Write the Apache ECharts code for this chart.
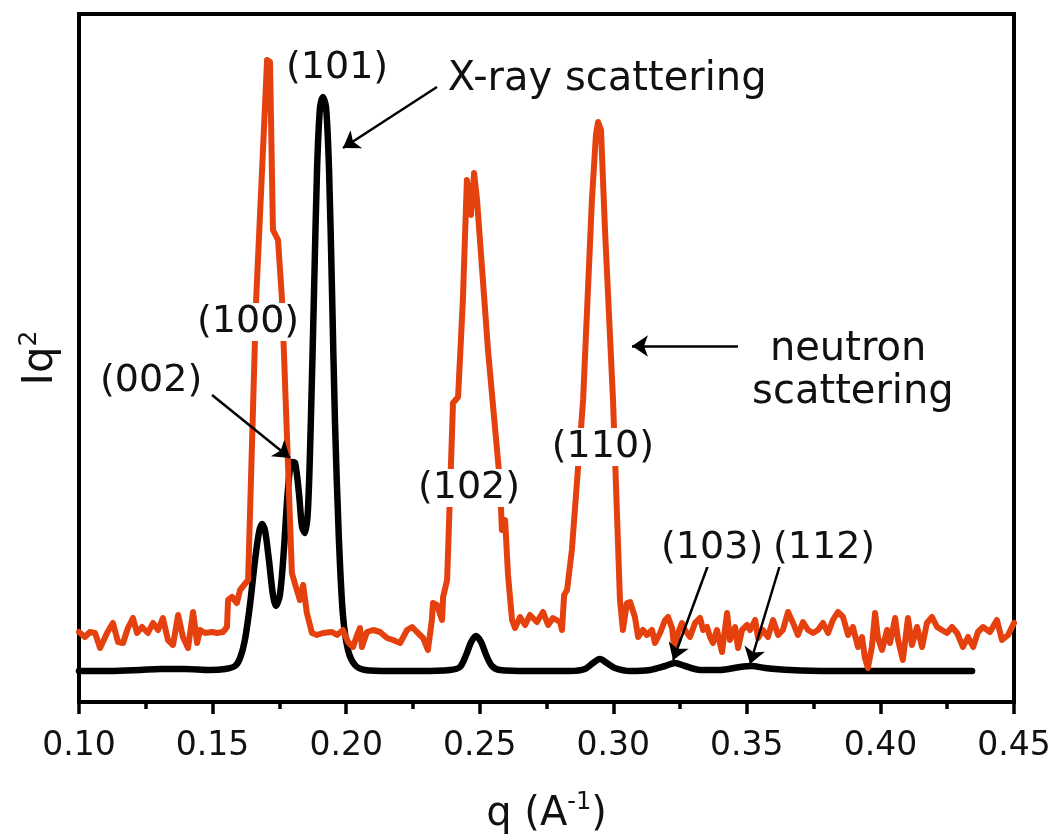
<!DOCTYPE html>
<html><head><meta charset="utf-8">
<script src="https://cdn.jsdelivr.net/npm/echarts@6/dist/echarts.min.js"></script>
<style>html,body{margin:0;padding:0;background:#fff}#c{width:1060px;height:838px}</style>
</head><body><div id="c"></div>
<script>
// X-ray scattering curve (q in 1/A, Iq^2 arbitrary units)
const qBlack=[0.1000,0.1116,0.1228,0.1303,0.1397,0.1490,0.1547,0.1584,0.1603,0.1621,0.1640,0.1659,0.1674,0.1685,0.1696,0.1711,0.1726,0.1737,0.1752,0.1767,0.1782,0.1797,0.1809,0.1824,0.1835,0.1846,0.1857,0.1868,0.1880,0.1891,0.1902,0.1913,0.1925,0.1936,0.1947,0.1958,0.1973,0.1988,0.2007,0.2033,0.2071,0.2164,0.2276,0.2389,0.2426,0.2449,0.2468,0.2486,0.2505,0.2524,0.2546,0.2576,0.2688,0.2838,0.2894,0.2924,0.2950,0.2976,0.3006,0.3063,0.3137,0.3194,0.3231,0.3268,0.3325,0.3400,0.3474,0.3519,0.3568,0.3662,0.3811,0.3998,0.4186,0.4343];
const iBlack=[31,31,32,33,33,32,33,36,44,62,97,142,170,178,172,142,107,96,107,152,212,240,239,207,175,169,192,282,412,532,594,605,594,532,412,282,162,87,52,37,32,31,31,32,35,47,60,66,60,47,36,32,31,31,33,39,43,39,34,31,32,36,39,36,32,32,35,36,34,32,31,31,31,31];
// Neutron scattering curve
const qRed=[0.1000,0.1022,0.1041,0.1060,0.1079,0.1105,0.1127,0.1146,0.1165,0.1183,
0.1202,0.1217,0.1236,0.1258,0.1277,0.1296,0.1314,0.1333,0.1352,0.1371,
0.1389,0.1408,0.1427,0.1442,0.1453,0.1472,0.1498,0.1517,0.1539,0.1554,
0.1558,0.1573,0.1591,0.1603,0.1618,0.1633,0.1663,0.1693,0.1704,0.1715,
0.1726,0.1745,0.1760,0.1797,0.1812,0.1827,0.1839,0.1853,0.1872,0.1891,
0.1913,0.1947,0.1966,0.1988,0.2007,0.2026,0.2041,0.2052,0.2059,0.2078,
0.2101,0.2127,0.2153,0.2175,0.2202,0.2228,0.2247,0.2265,0.2288,0.2306,
0.2321,0.2325,0.2340,0.2359,0.2363,0.2378,0.2400,0.2419,0.2437,0.2452,
0.2467,0.2479,0.2490,0.2531,0.2576,0.2583,0.2595,0.2606,0.2621,0.2632,
0.2651,0.2670,0.2688,0.2714,0.2737,0.2756,0.2774,0.2801,0.2808,0.2816,
0.2827,0.2845,0.2887,0.2920,0.2935,0.2943,0.2954,0.2969,0.2999,0.3025,
0.3036,0.3051,0.3063,0.3081,0.3093,0.3111,0.3126,0.3145,0.3156,0.3175,
0.3194,0.3205,0.3220,0.3231,0.3242,0.3257,0.3268,0.3287,0.3306,0.3325,
0.3336,0.3351,0.3362,0.3373,0.3388,0.3407,0.3426,0.3437,0.3456,0.3467,
0.3482,0.3501,0.3512,0.3531,0.3542,0.3560,0.3579,0.3598,0.3617,0.3635,
0.3654,0.3673,0.3691,0.3710,0.3729,0.3748,0.3766,0.3785,0.3804,0.3822,
0.3841,0.3860,0.3879,0.3897,0.3916,0.3931,0.3942,0.3953,0.3968,0.3980,
0.3991,0.4006,0.4025,0.4036,0.4055,0.4066,0.4084,0.4103,0.4118,0.4137,
0.4156,0.4174,0.4193,0.4212,0.4230,0.4249,0.4268,0.4287,0.4309,0.4328,
0.4347,0.4365,0.4384,0.4410,0.4436,0.4455,0.4478,0.4496,0.4500];
const iRed=[70,65,70,69,54,69,79,60,59,74,
84,69,75,69,79,72,84,62,57,87,
65,54,90,59,72,69,70,69,70,75,
102,105,99,112,117,122,402,577,642,640,
472,462,402,129,115,102,117,89,69,67,
69,70,67,72,60,55,67,74,55,70,
72,70,64,62,59,72,75,70,64,52,
82,99,97,82,105,122,299,305,402,522,
487,529,502,352,219,172,182,127,82,74,
85,77,87,80,90,77,84,80,72,107,
112,152,302,502,567,580,572,472,302,102,
72,99,100,85,65,72,67,72,59,69,
82,85,74,47,69,79,72,65,79,84,
72,75,65,59,72,50,89,62,75,54,
72,77,72,82,64,72,65,82,67,72,
90,79,67,80,72,69,72,79,69,82,
90,85,67,75,55,65,44,34,55,89,
64,52,72,59,84,62,42,84,57,75,
55,79,85,75,72,69,75,69,55,65,
55,70,75,70,82,62,67,77,79];
const xTickLabels=['0.10','0.15','0.20','0.25','0.30','0.35','0.40','0.45'];
// Peak labels (data coordinates)
const peakLabels=['(101)','(100)','(002)','(102)','(110)','(103)','(112)'];
const peakLabelQ=[0.1966,0.1633,0.1270,0.2460,0.2961,0.3370,0.3789];
const peakLabelI=[634,380,321,214,255,154,154];
// Notes
const noteTexts=['X-ray scattering','neutron','scattering'];
const noteQ=[0.2977,0.3879,0.3897];
const noteI=[622,352,309];
// Arrows (tail -> head)
const arrowFromQ=[0.2340,0.1498,0.3467,0.3355,0.3624];
const arrowFromI=[615,307,356,137,137];
const arrowToQ=[0.1988,0.1790,0.3070,0.3224,0.3512];
const arrowToI=[554,244,356,42,38];

const FONT='DejaVu Sans';
const TXT='#111';
const zip=(a,b)=>a.map((v,i)=>[v,b[i]]);

const chart=echarts.init(document.getElementById('c'),null,{renderer:'canvas'});
const mp=[];
peakLabels.forEach((t,i)=>mp.push({name:t,coord:[peakLabelQ[i],peakLabelI[i]],label:{fontSize:38}}));
noteTexts.forEach((t,i)=>mp.push({name:t,coord:[noteQ[i],noteI[i]],label:{fontSize:40,backgroundColor:'transparent'}}));
const ml=arrowFromQ.map((q,i)=>[{coord:[q,arrowFromI[i]]},{coord:[arrowToQ[i],arrowToI[i]]}]);

chart.setOption({
  animation:false,
  backgroundColor:'#fff',
  grid:{left:79,right:46,top:14,bottom:136,containLabel:false,outerBoundsMode:'none',
    show:true,borderColor:'#000',borderWidth:4,backgroundColor:'transparent'},
  xAxis:{type:'value',min:0.10,max:0.45,interval:0.05,
    axisLine:{show:true,onZero:false,lineStyle:{color:'#000',width:4}},
    axisTick:{show:true,length:12,lineStyle:{color:'#000',width:3.5}},
    minorTick:{show:true,splitNumber:2,length:7,lineStyle:{color:'#000',width:3.5}},
    splitLine:{show:false},minorSplitLine:{show:false},
    axisLabel:{fontFamily:FONT,fontSize:33,color:TXT,margin:28,
      formatter:v=>xTickLabels[Math.round((v-0.10)/0.05)]},
    name:'{a|q (A}{s|-1}{a|)}',nameLocation:'middle',nameGap:89,
    nameTextStyle:{rich:{a:{fontFamily:FONT,fontSize:40,color:TXT,lineHeight:48},
      s:{fontFamily:FONT,fontSize:24,color:TXT,verticalAlign:'top',lineHeight:24}}}
  },
  yAxis:{type:'value',min:0,max:688,
    axisLine:{show:true,onZero:false,lineStyle:{color:'#000',width:4}},
    axisTick:{show:false},axisLabel:{show:false},splitLine:{show:false},
    name:'{a|Iq}{s|2}',nameLocation:'middle',nameGap:14,nameRotate:90,
    nameTextStyle:{rich:{a:{fontFamily:FONT,fontSize:42,color:TXT,lineHeight:48},
      s:{fontFamily:FONT,fontSize:25,color:TXT,verticalAlign:'top',lineHeight:24}}}
  },
  series:[
    {type:'line',name:'X-ray scattering',data:zip(qBlack,iBlack),symbol:'none',showSymbol:false,smooth:0.3,
      lineStyle:{color:'#000',width:6.5,join:'round',cap:'round'},emphasis:{disabled:true},z:2},
    {type:'line',name:'neutron scattering',data:zip(qRed,iRed),symbol:'none',showSymbol:false,
      lineStyle:{color:'#e5410f',width:6,join:'round',cap:'round'},emphasis:{disabled:true},z:3,
      markLine:{silent:true,animation:false,symbol:['none','arrow'],symbolSize:16,
        label:{show:false},lineStyle:{color:'#000',width:2.5,type:'solid'},
        emphasis:{disabled:true},data:ml},
      markPoint:{silent:true,animation:false,symbol:'circle',symbolSize:1,
        itemStyle:{color:'rgba(0,0,0,0)'},
        label:{show:true,position:'inside',formatter:'{b}',color:TXT,fontFamily:FONT,
          backgroundColor:'#fff',padding:[0,2]},
        emphasis:{disabled:true},data:mp}
    }
  ]
});
</script></body></html>
